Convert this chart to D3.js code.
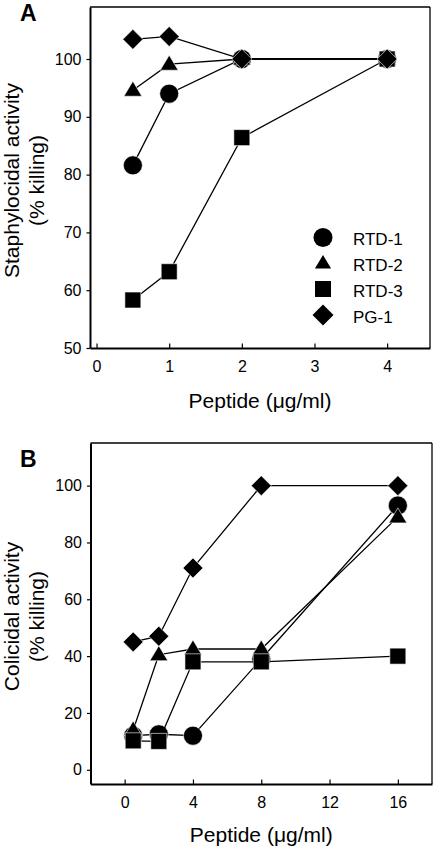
<!DOCTYPE html>
<html><head><meta charset="utf-8">
<script src="https://cdn.jsdelivr.net/npm/d3@7"></script>
<style>body{margin:0;background:#fff}svg{display:block}text{font-family:"Liberation Sans",Arial,sans-serif;fill:#000}</style>
</head><body>
<script>
// ---- data ----
const seriesNames = ["RTD-1","RTD-2","RTD-3","PG-1"];
const shapes = ["circle","triangle","square","diamond"];
// Panel A: staphylocidal
const xA = [0.5, 1, 2, 4];
const aRTD1 = [81.6, 94.0, 100, 100];
const aRTD2 = [94.6, 99.1, 100, 100];
const aRTD3 = [58.3, 63.2, 86.4, 100];
const aPG1  = [103.4, 103.9, 100, 100];
const xTicksA = [0,1,2,3,4];
const yTicksA = [50,60,70,80,90,100];
// Panel B: colicidal
const xB = [0.5, 2, 4, 8, 16];
const bRTD1 = [12, 12.5, 12, 39, 93];
const bRTD2 = [14, 40.5, 42.5, 42.5, 89];
const bRTD3 = [10.2, 10, 38, 38, 40];
const bPG1  = [45, 47, 71, 100, 100];
const xTicksB = [0,4,8,12,16];
const yTicksB = [0,20,40,60,80,100];

const W=433,H=848;
const svg=d3.select("body").append("svg").attr("width",W).attr("height",H);

function shapePath(kind, s){
  const p=d3.path();
  if(kind==="circle"){ p.arc(0,0,9.5*s,0,2*Math.PI); }
  else if(kind==="square"){ const h=8*s; p.rect(-h,-h,2*h,2*h); }
  else if(kind==="triangle"){ const w=9*s, hh=15*s; p.moveTo(0,-hh*0.6); p.lineTo(w,hh*0.4); p.lineTo(-w,hh*0.4); p.closePath(); }
  else { const d=10*s; p.moveTo(0,-d); p.lineTo(d,0); p.lineTo(0,d); p.lineTo(-d,0); p.closePath(); }
  return p.toString();
}

function panel(cfg){
  const {left,right,top,bottom,xDom,yDom,xTicks,yTicks,xs,ys,letter,letterY,ytitle,xtitleY} = cfg;
  const x=d3.scaleLinear().domain(xDom).range([left,right]);
  const y=d3.scaleLinear().domain(yDom).range([bottom,top]);
  const g=svg.append("g");
  g.append("line").attr("x1",left).attr("x2",right).attr("y1",top).attr("y2",top).attr("stroke","#000").attr("stroke-width",1.3);
  g.append("line").attr("x1",right).attr("x2",right).attr("y1",top).attr("y2",bottom).attr("stroke","#000").attr("stroke-width",1.3);
  const ya=g.append("g").attr("transform",`translate(${left},0)`)
    .call(d3.axisLeft(y).tickValues(yTicks).tickFormat(d3.format("d")).tickSize(3.5).tickPadding(5).tickSizeOuter(0));
  const xa=g.append("g").attr("transform",`translate(0,${bottom})`)
    .call(d3.axisBottom(x).tickValues(xTicks).tickFormat(d3.format("d")).tickSize(-4.5).tickPadding(9).tickSizeOuter(0));
  [ya,xa].forEach(a=>{
    a.select(".domain").attr("stroke","#000").attr("stroke-width",2);
    a.selectAll(".tick line").attr("stroke","#000").attr("stroke-width",1.2);
    a.selectAll(".tick text").style("font-size","16px").attr("fill","#000");
  });
  xa.selectAll(".tick text").attr("dy","0").attr("y",24);
  ys.forEach((vals,i)=>{
    const pts=xs.map((xv,j)=>[x(xv),y(vals[j])]);
    g.append("path").attr("d",d3.line()(pts)).attr("fill","none").attr("stroke","#000").attr("stroke-width",1.3);
    g.selectAll(null).data(pts).enter().append("path")
      .attr("d",shapePath(shapes[i],1))
      .attr("transform",d=>`translate(${d[0]},${d[1]})`)
      .attr("fill","#000").attr("stroke","#fff").attr("stroke-width",0.6);
  });
  g.append("text").attr("x",20).attr("y",letterY).text(letter)
    .style("font-size","23px").style("font-weight","bold");
  const cy=(top+bottom)/2;
  const t=g.append("text").attr("transform",`translate(19,${cy+3}) rotate(-90)`).attr("text-anchor","middle").style("font-size","21px");
  t.append("tspan").attr("x",0).attr("y",0).text(ytitle);
  t.append("tspan").attr("x",0).attr("y",25).text("(% killing)");
  g.append("text").attr("x",(left+right)/2).attr("y",xtitleY).attr("text-anchor","middle").style("font-size","21px").text("Peptide (\u03bcg/ml)");
  return {x,y,g};
}

panel({left:90,right:430,top:7,bottom:348,xDom:[-0.09,4.59],yDom:[50,109],
  xTicks:xTicksA,yTicks:yTicksA,xs:xA,ys:[aRTD1,aRTD2,aRTD3,aPG1],letter:"A",letterY:21,
  ytitle:"Staphylocidal activity",xtitleY:408});
panel({left:90.5,right:432,top:443,bottom:784,xDom:[-2,18],yDom:[-5,115],
  xTicks:xTicksB,yTicks:yTicksB,xs:xB,ys:[bRTD1,bRTD2,bRTD3,bPG1],letter:"B",letterY:467,
  ytitle:"Colicidal activity",xtitleY:842});

const legY=[237.5,263,289,315];
const leg=svg.append("g");
seriesNames.forEach((n,i)=>{
  leg.append("path").attr("d",shapePath(shapes[i],i===1?0.9:(i===3?1.05:1)))
    .attr("transform",`translate(323,${legY[i]})`).attr("fill","#000");
  leg.append("text").attr("x",353).attr("y",legY[i]+7.5).style("font-size","17px").text(n);
});
</script>
</body></html>
